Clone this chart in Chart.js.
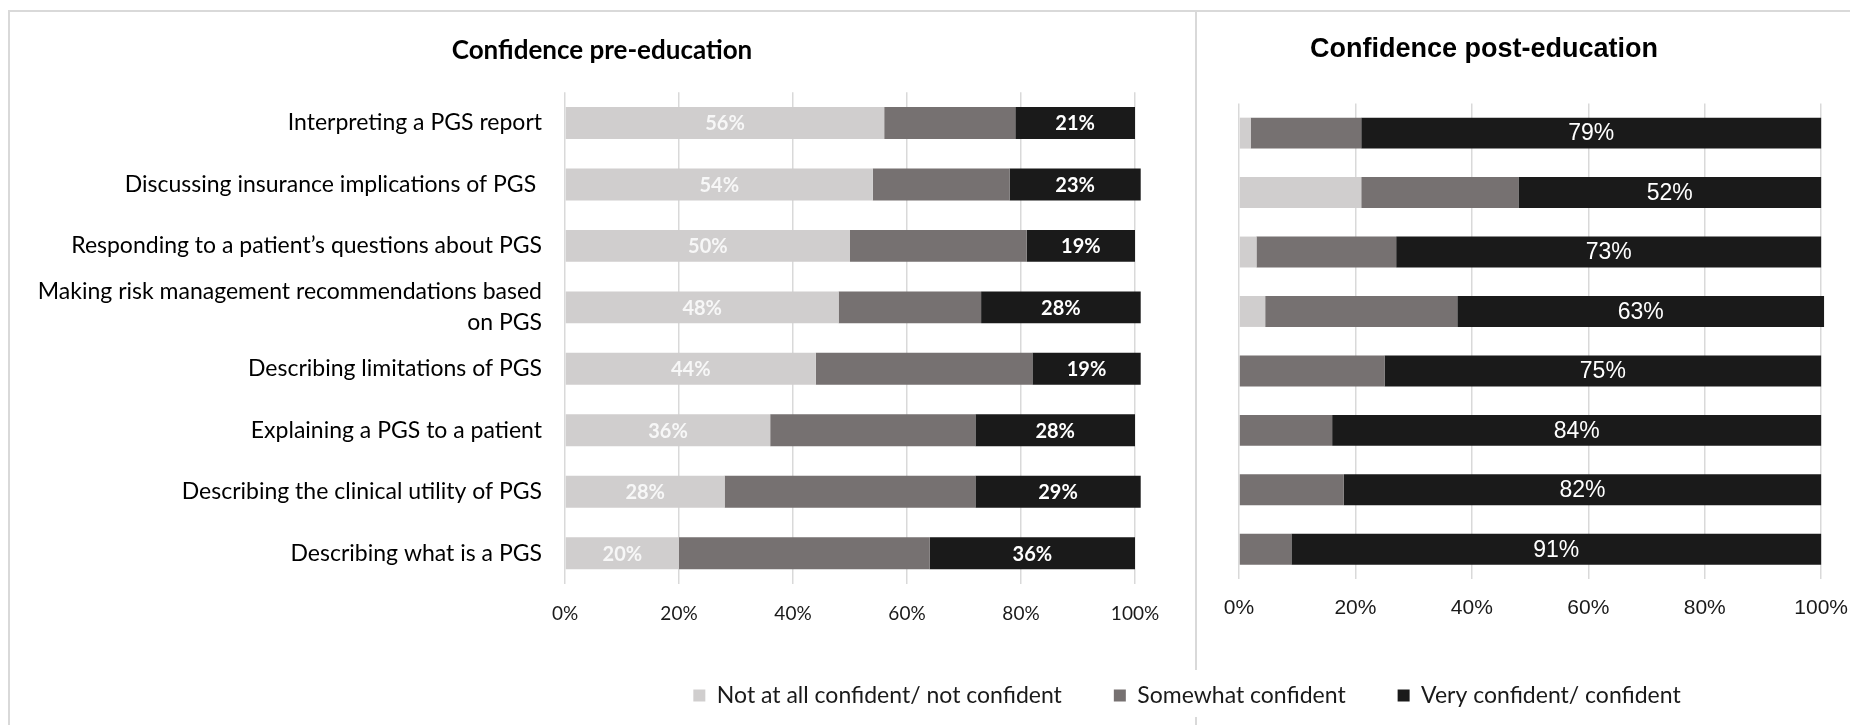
<!DOCTYPE html>
<html>
<head>
<meta charset="utf-8">
<title>Confidence pre/post education</title>
<script src="https://cdn.jsdelivr.net/npm/chart.js@4.4.0/dist/chart.umd.min.js"></script>
<style>
  html, body { margin: 0; background: #fff; width: 1850px; height: 725px; overflow: hidden; }
  body { position: relative; }
  #frame { position: absolute; left: 8px; top: 10px; width: 1842px; height: 715px; border-left: 2px solid #d9d9d9; border-top: 2px solid #d9d9d9; box-sizing: border-box; }
  .divider { position: absolute; left: 1195px; width: 2px; background: #d9d9d9; }
  .box { position: absolute; }
</style>
</head>
<body>
<div id="frame"></div>
<div class="divider" style="top:12px;height:658px"></div>
<div class="divider" style="top:717px;height:8px"></div>
<div class="box" style="left:0;top:0;width:1204px;height:660px"><canvas id="preChart"></canvas></div>
<div class="box" style="left:1103px;top:0;width:762px;height:660px"><canvas id="postChart"></canvas></div>
<div class="box" style="left:524px;top:632px;width:1326px;height:200px"><canvas id="legendChart"></canvas></div>
<script>
// Survey items (top to bottom as drawn)
const categories = [
  "Interpreting a PGS report",
  "Discussing insurance implications of PGS ",
  "Responding to a patient\u2019s questions about PGS",
  ["Making risk management recommendations based", "on PGS"],
  "Describing limitations of PGS",
  "Explaining a PGS to a patient",
  "Describing the clinical utility of PGS",
  "Describing what is a PGS"
];
const seriesNames = ["Not at all confident/ not confident", "Somewhat confident", "Very confident/ confident"];
const seriesColors = ["#d0cece", "#767171", "#1a1a1a"];

// Pre-education percentages
const preNotConfident = [56, 54, 50, 48, 44, 36, 28, 20];
const preSomewhat = [23, 24, 31, 25, 38, 36, 44, 44];
const preConfident = [21, 23, 19, 28, 19, 28, 29, 36];

// Post-education percentages
const postNotConfident = [2, 21, 3, 4.5, 0, 0, 0, 0];
const postSomewhat = [19, 27, 24, 33, 25, 16, 18, 9];
const postConfident = [79, 52, 73, 63, 75, 84, 82, 91];

const tickValues = [0, 20, 40, 60, 80, 100];

// draws the % labels in the middle of each segment
const barLabels = {
  id: "barLabels",
  afterDatasetsDraw(chart, args, opts) {
    const ctx = chart.ctx;
    ctx.save();
    ctx.font = opts.font;
    ctx.textAlign = "center";
    ctx.textBaseline = "middle";
    chart.data.datasets.forEach((ds, i) => {
      if (!opts.show[i]) return;
      chart.getDatasetMeta(i).data.forEach((bar, j) => {
        const v = ds.data[j];
        if (!v) return;
        ctx.fillStyle = opts.colors[i];
        ctx.fillText(Math.round(v) + "%", (bar.x + bar.base) / 2, bar.y + opts.dy);
      });
    });
    ctx.restore();
  }
};

function makeDatasets(a, b, c) {
  return [a, b, c].map((d, i) => ({
    label: seriesNames[i],
    data: d,
    backgroundColor: seriesColors[i],
    borderWidth: 0,
    barPercentage: 0.52,
    categoryPercentage: 1.0,
    clip: false
  }));
}

function xScale(fontFamily, fontSize, pad, height) {
  return {
    stacked: true,
    min: 0,
    max: 100,
    afterBuildTicks: s => { s.ticks = tickValues.map(v => ({ value: v })); },
    afterFit: s => { s.height = height; },
    grid: { color: "#d9d9d9", lineWidth: 1.5, drawTicks: false },
    border: { display: false },
    ticks: {
      padding: pad,
      color: "#1a1a1a",
      font: { family: fontFamily, size: fontSize },
      callback: v => v + "%"
    }
  };
}

// empty side axis, only used to reserve room so the title sits where the original has it
function spacerAxis(position, width) {
  return {
    type: "linear",
    position: position,
    min: 0,
    max: 1,
    afterFit: s => { s.width = width; },
    grid: { display: false, drawTicks: false },
    border: { display: false },
    ticks: { display: false }
  };
}

const preChart = new Chart(document.getElementById("preChart"), {
  type: "bar",
  data: { labels: categories, datasets: makeDatasets(preNotConfident, preSomewhat, preConfident) },
  plugins: [barLabels],
  options: {
    indexAxis: "y",
    responsive: true,
    maintainAspectRatio: false,
    animation: false,
    layout: { padding: 0 },
    scales: {
      x: xScale("Lato", 19, 18, 76),
      y: {
        stacked: true,
        afterFit: s => { s.width = 565; },
        grid: { display: false, drawTicks: false },
        border: { display: false },
        ticks: {
          autoSkip: false,
          padding: 23,
          color: "#000",
          font: { family: "Lato", size: 23, lineHeight: 1.35 }
        }
      },
      yRight: spacerAxis("right", 69)
    },
    plugins: {
      legend: { display: false },
      tooltip: { enabled: false },
      title: {
        display: true,
        text: "Confidence pre-education",
        color: "#000",
        font: { family: "Lato", size: 26, weight: "bold", lineHeight: 1.2 },
        padding: { top: 35, bottom: 26 }
      },
      barLabels: {
        show: [true, false, true],
        colors: ["#f7f7f7", "#fff", "#fff"],
        font: "bold 20px Lato",
        dy: 1
      }
    }
  }
});

const postChart = new Chart(document.getElementById("postChart"), {
  type: "bar",
  data: { labels: categories, datasets: makeDatasets(postNotConfident, postSomewhat, postConfident) },
  plugins: [barLabels],
  options: {
    indexAxis: "y",
    responsive: true,
    maintainAspectRatio: false,
    animation: false,
    layout: { padding: 0 },
    scales: {
      x: xScale("Liberation Sans", 21, 17, 81),
      y: {
        stacked: true,
        afterFit: s => { s.width = 136; },
        grid: { display: false, drawTicks: false },
        border: { display: false },
        ticks: { display: false }
      }
    },
    plugins: {
      legend: { display: false },
      tooltip: { enabled: false },
      title: {
        display: true,
        text: "Confidence post-education",
        color: "#000",
        font: { family: "Liberation Sans", size: 27, weight: "bold", lineHeight: 1.2 },
        padding: { top: 33, bottom: 38 }
      },
      barLabels: {
        show: [false, false, true],
        colors: ["#fff", "#fff", "#fff"],
        font: "23px 'Liberation Sans'",
        dy: 1
      }
    }
  }
});

// shared legend along the bottom
const legendChart = new Chart(document.getElementById("legendChart"), {
  type: "bar",
  data: {
    labels: [],
    datasets: seriesNames.map((n, i) => ({ label: n, data: [], backgroundColor: seriesColors[i], borderWidth: 0 }))
  },
  options: {
    responsive: true,
    maintainAspectRatio: false,
    animation: false,
    scales: { x: { display: false }, y: { display: false } },
    plugins: {
      tooltip: { enabled: false },
      legend: {
        display: true,
        position: "top",
        onClick: null,
        labels: {
          boxWidth: 12,
          boxHeight: 12,
          padding: 52,
          color: "#1a1a1a",
          font: { family: "Lato", size: 23 }
        }
      }
    }
  }
});
</script>
</body>
</html>
